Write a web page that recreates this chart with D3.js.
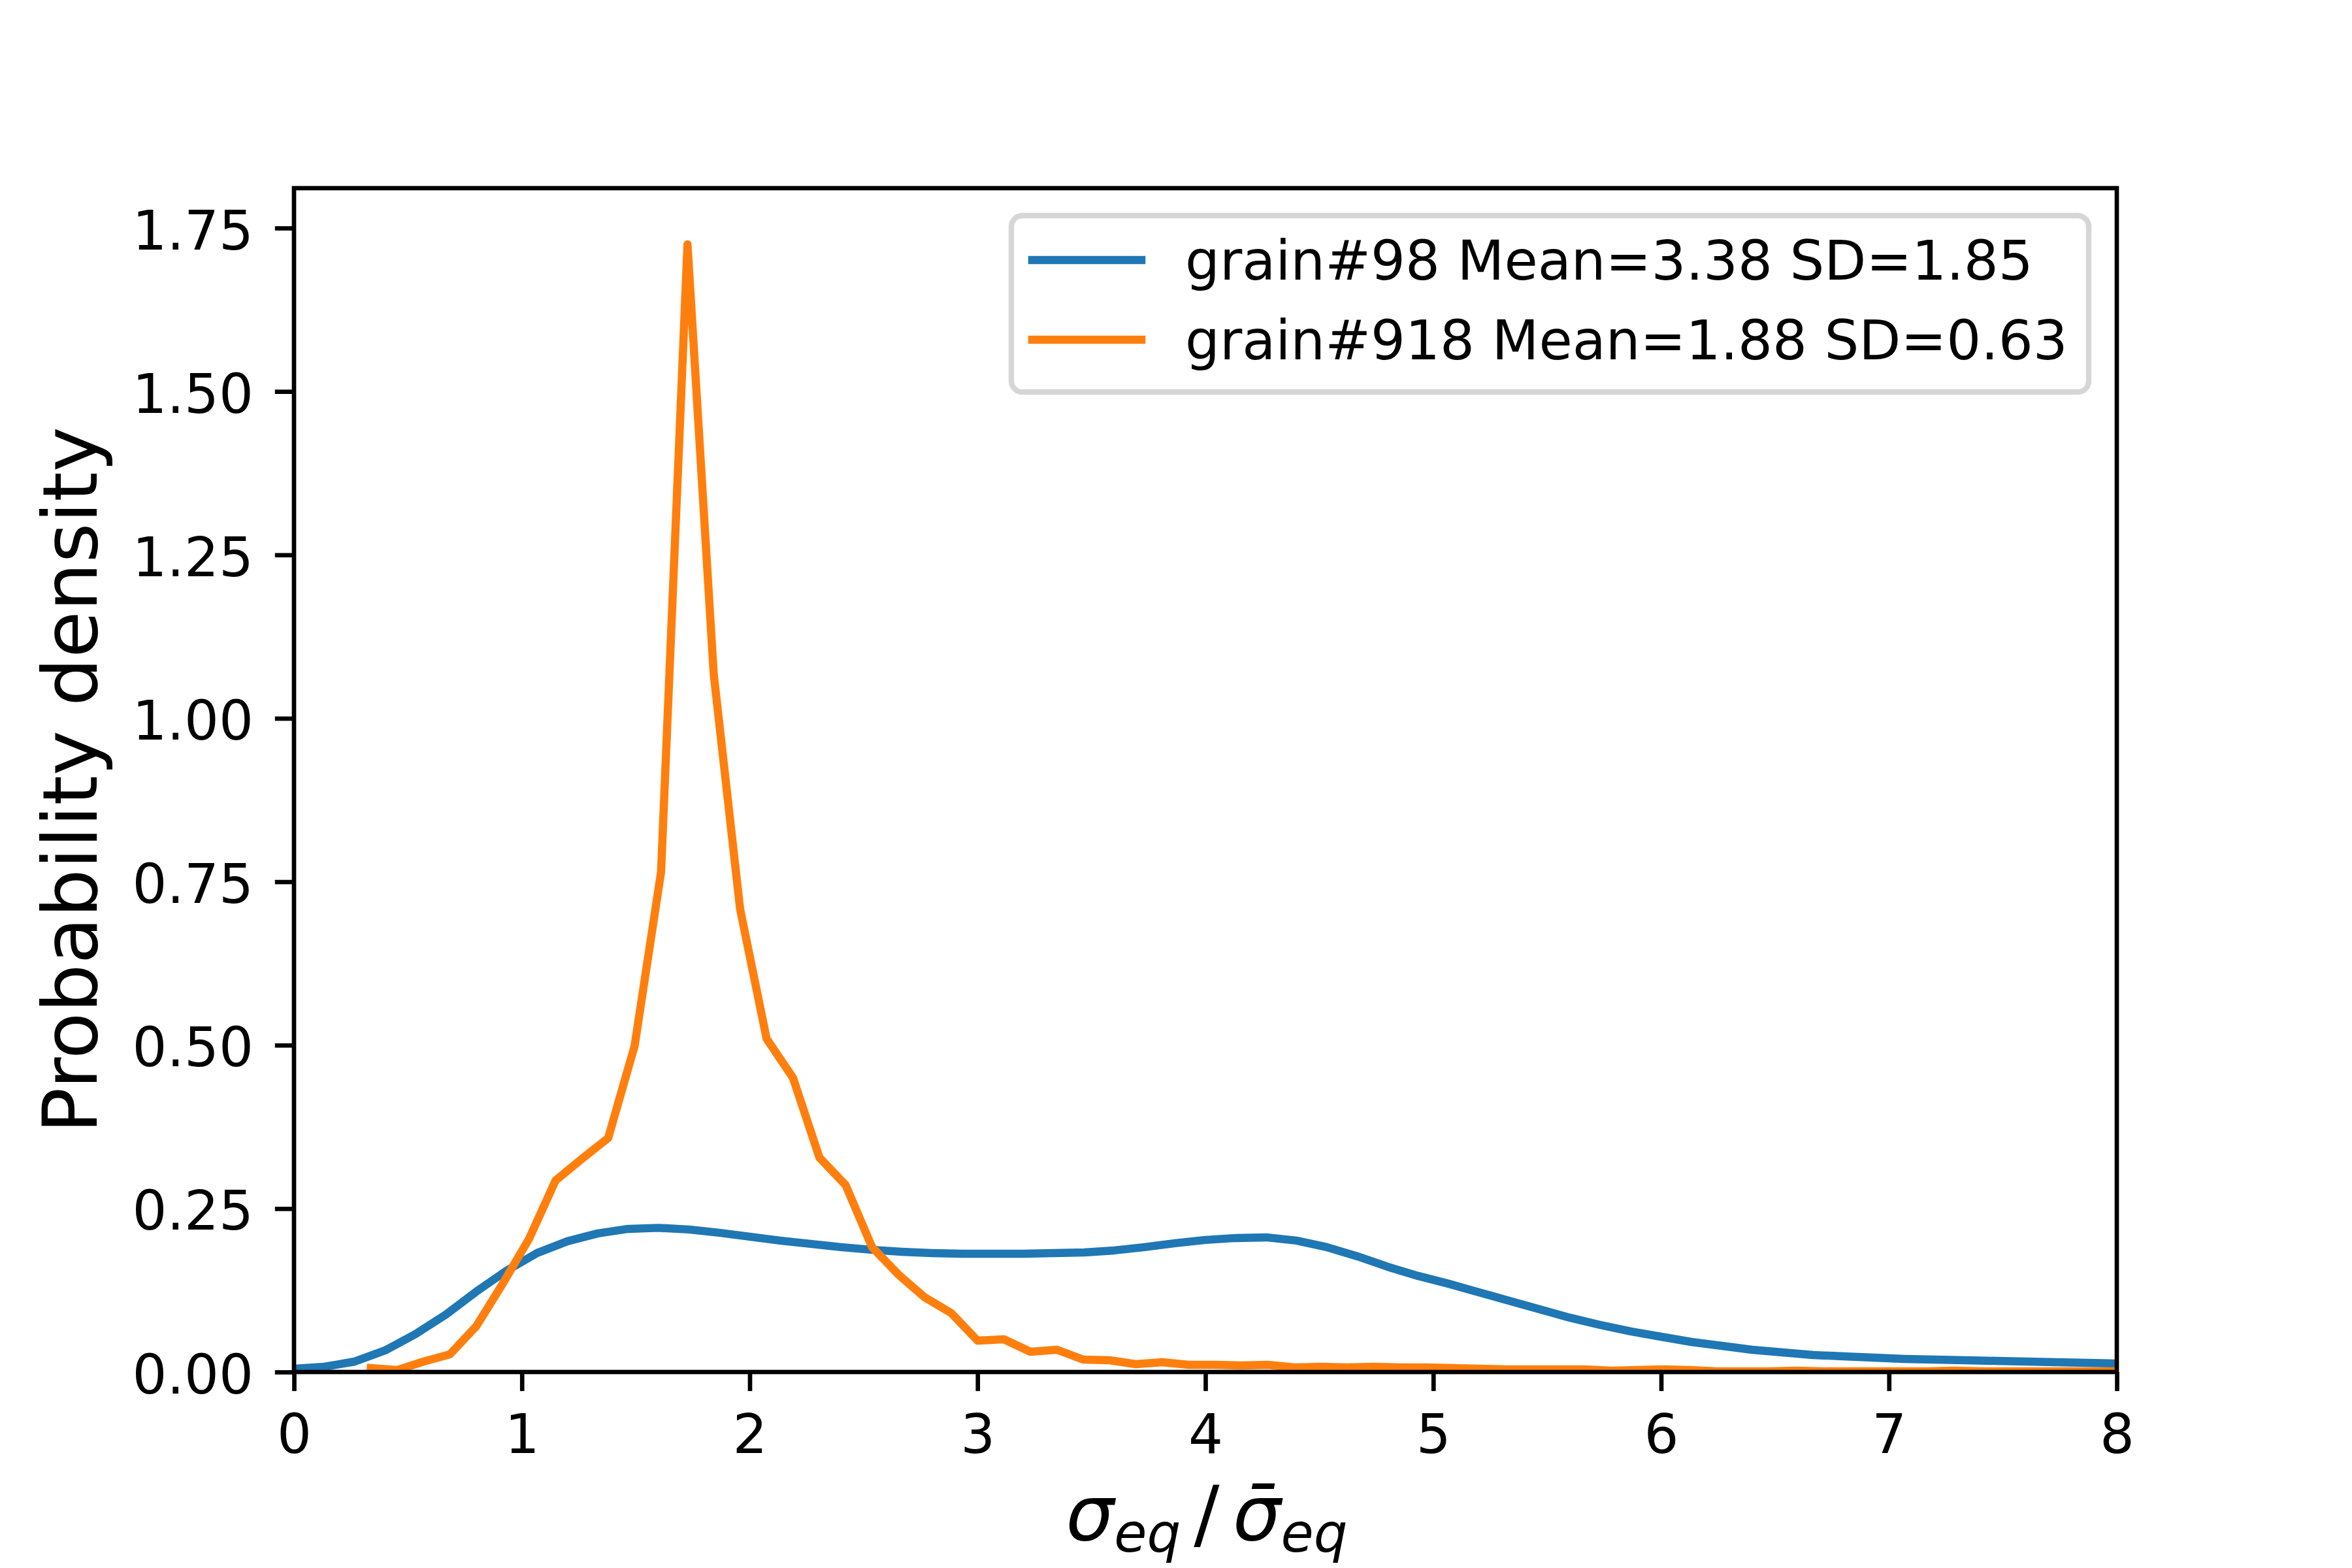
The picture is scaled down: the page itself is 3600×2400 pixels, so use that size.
<!DOCTYPE html>
<html>
<head>
<meta charset="utf-8">
<script src="https://cdn.jsdelivr.net/npm/d3@7"></script>
<style>
  html, body { margin: 0; padding: 0; background: #ffffff; }
  svg { display: block; }
</style>
</head>
<body>
<script>
// ---------------- data ----------------
const blueLabel = "grain#98 Mean=3.38 SD=1.85";
const orangeLabel = "grain#918 Mean=1.88 SD=0.63";

const blueX = [0.000,0.133,0.267,0.400,0.533,0.667,0.800,0.933,1.067,1.200,1.333,1.467,1.600,1.733,1.867,2.000,
  2.133,2.267,2.400,2.533,2.667,2.800,2.933,3.067,3.200,3.333,3.467,3.600,3.733,3.867,4.000,4.133,4.267,4.400,
  4.533,4.667,4.800,4.933,5.067,5.200,5.333,5.467,5.600,5.733,5.867,6.000,6.133,6.267,6.400,6.533,6.667,6.800,
  6.933,7.067,7.200,7.333,7.467,7.600,7.733,7.867,8.000];
const blueY = [0.005,0.008,0.016,0.033,0.058,0.088,0.123,0.155,0.182,0.200,0.212,0.219,0.2205,0.218,0.213,0.207,
  0.201,0.196,0.191,0.187,0.184,0.182,0.181,0.181,0.181,0.182,0.183,0.186,0.191,0.197,0.202,0.205,0.206,0.201,
  0.191,0.177,0.161,0.147,0.135,0.122,0.109,0.096,0.083,0.072,0.062,0.054,0.046,0.040,0.034,0.030,0.026,0.024,
  0.022,0.020,0.019,0.018,0.017,0.016,0.015,0.014,0.013];

const orangeX = [0.337,0.453,0.569,0.684,0.800,0.916,1.032,1.148,1.263,1.379,1.495,1.611,1.727,1.842,1.958,2.074,
  2.190,2.306,2.421,2.537,2.653,2.769,2.885,3.000,3.116,3.232,3.348,3.464,3.579,3.695,3.811,3.927,4.043,4.158,
  4.274,4.390,4.506,4.622,4.737,4.853,4.969,5.085,5.201,5.316,5.432,5.548,5.664,5.780,5.895,6.011,6.127,6.243,
  6.359,6.474,6.590,6.706,6.822,6.938,7.053,7.169,7.285,7.401,7.517,7.632,7.748,7.864,7.980];
const orangeY = [0.006,0.003,0.016,0.027,0.070,0.135,0.204,0.293,0.326,0.358,0.499,0.765,1.725,1.068,0.708,0.510,
  0.450,0.328,0.286,0.191,0.149,0.114,0.090,0.048,0.050,0.031,0.034,0.019,0.018,0.012,0.015,0.011,0.011,0.010,
  0.011,0.007,0.008,0.007,0.008,0.007,0.007,0.006,0.005,0.004,0.004,0.004,0.004,0.002,0.003,0.004,0.003,0.001,
  0.001,0.001,0.002,0.001,0.001,0.001,0.001,0.001,0.002,0.001,0.001,0.001,0.001,0.001,0.001];

const xTicks = [0,1,2,3,4,5,6,7,8];
const yTicks = [0,0.25,0.5,0.75,1.0,1.25,1.5,1.75];
const xDomain = [0, 8];
const yDomain = [0, 1.811];

const seriesNames = [blueLabel, orangeLabel];
const seriesColors = ["#1f77b4", "#ff7f0e"];

// ---------------- layout ----------------
const W = 3600, H = 2400;
const L = 450, R = 3240, T = 288, B = 2100;
const pt = 600 / 72;              // px per point
const fs = 10 * pt;               // 10pt
const fsLabel = 14 * pt;          // 14pt
const spineW = 0.8 * pt, tickLen = 3.5 * pt, tickPad = 3.5 * pt, lineW = 1.5 * pt;
const font = "'DejaVu Sans', sans-serif";

const svg = d3.select("body").append("svg")
  .attr("width", W).attr("height", H)
  .attr("viewBox", `0 0 ${W} ${H}`);
svg.append("rect").attr("width", W).attr("height", H).attr("fill", "#ffffff");

const x = d3.scaleLinear().domain(xDomain).range([L, R]);
const y = d3.scaleLinear().domain(yDomain).range([B, T]);

svg.append("defs").append("clipPath").attr("id", "plotclip")
  .append("rect").attr("x", L).attr("y", T).attr("width", R - L).attr("height", B - T);

const line = d3.line().x(d => x(d[0])).y(d => y(d[1]));
const series = [
  d3.zip(blueX, blueY),
  d3.zip(orangeX, orangeY)
];

const plot = svg.append("g").attr("clip-path", "url(#plotclip)");
series.forEach((s, i) => {
  plot.append("path")
    .datum(s)
    .attr("d", line)
    .attr("fill", "none")
    .attr("stroke", seriesColors[i])
    .attr("stroke-width", lineW)
    .attr("stroke-linejoin", "round")
    .attr("stroke-linecap", "square");
});

// axes
const xAxis = d3.axisBottom(x).tickValues(xTicks).tickFormat(d3.format("d"))
  .tickSize(tickLen).tickPadding(tickPad);
const gx = svg.append("g").attr("transform", `translate(0,${B})`).call(xAxis);
gx.select(".domain").remove();
gx.selectAll(".tick line").attr("stroke", "#000").attr("stroke-width", spineW);
gx.selectAll(".tick text")
  .attr("font-family", font).attr("font-size", fs).attr("fill", "#000")
  .attr("dy", null).attr("y", 124);

const yAxis = d3.axisLeft(y).tickValues(yTicks).tickFormat(d3.format(".2f"))
  .tickSize(tickLen).tickPadding(tickPad);
const gy = svg.append("g").attr("transform", `translate(${L},0)`).call(yAxis);
gy.select(".domain").remove();
gy.selectAll(".tick line").attr("stroke", "#000").attr("stroke-width", spineW);
gy.selectAll(".tick text")
  .attr("font-family", font).attr("font-size", fs).attr("fill", "#000")
  .attr("x", -62).attr("dy", 32);

// spines
svg.append("rect")
  .attr("x", L).attr("y", T).attr("width", R - L).attr("height", B - T)
  .attr("fill", "none").attr("stroke", "#000").attr("stroke-width", spineW)
  .attr("stroke-linejoin", "miter");

// y label
svg.append("text")
  .attr("transform", `translate(148,${(T + B) / 2}) rotate(-90)`)
  .attr("text-anchor", "middle")
  .attr("font-family", font).attr("font-size", fsLabel).attr("fill", "#000")
  .text("Probability density");

// x label (math text)
const xl = svg.append("text")
  .attr("x", (L + R) / 2 + 2).attr("y", 2357)
  .attr("text-anchor", "middle")
  .attr("font-family", font).attr("font-size", fsLabel).attr("fill", "#000");
xl.append("tspan").attr("font-style", "italic").text("σ");
xl.append("tspan").attr("font-style", "italic").attr("font-size", fsLabel * 0.7).attr("dy", 18).text("eq");
xl.append("tspan").attr("dy", -18).attr("dx", 20).text("/");
xl.append("tspan").attr("font-style", "italic").attr("dx", 20).text("σ\u0304");
xl.append("tspan").attr("font-style", "italic").attr("font-size", fsLabel * 0.7).attr("dy", 18).text("eq");

// legend
const lg = svg.append("g");
lg.append("rect")
  .attr("x", 1548).attr("y", 330).attr("width", 1649).attr("height", 270)
  .attr("rx", 0.2 * fs).attr("ry", 0.2 * fs)
  .attr("fill", "#ffffff").attr("fill-opacity", 0.8)
  .attr("stroke", "#cccccc").attr("stroke-opacity", 0.8).attr("stroke-width", 1.0 * pt);
seriesNames.forEach((name, i) => {
  const cy = 398 + i * 122;
  lg.append("line")
    .attr("x1", 1580).attr("x2", 1747).attr("y1", cy).attr("y2", cy)
    .attr("stroke", seriesColors[i]).attr("stroke-width", lineW).attr("stroke-linecap", "square");
  lg.append("text")
    .attr("x", 1814).attr("y", cy + 30)
    .attr("font-family", font).attr("font-size", fs).attr("fill", "#000")
    .text(name);
});
</script>
</body>
</html>
